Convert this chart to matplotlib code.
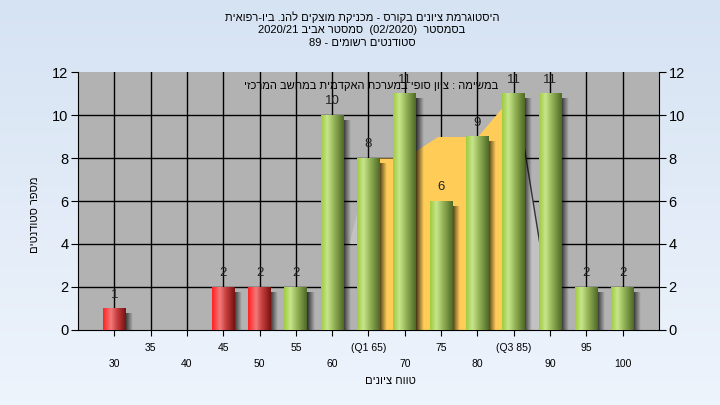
import numpy as np
import matplotlib
matplotlib.use("Agg")
import matplotlib.pyplot as plt
from matplotlib.colors import LinearSegmentedColormap, to_rgb

plt.rcParams['font.family'] = ['Liberation Sans', 'DejaVu Sans']

# data
grades = [30, 35, 40, 45, 50, 55, 60, 65, 70, 75, 80, 85, 90, 95, 100]
counts = [1, 0, 0, 2, 2, 2, 10, 8, 11, 6, 9, 11, 11, 2, 2]
failed = [30, 40, 45, 50]  # red bars
tick_top = ["35", "45", "55", "(Q1 65)", "75", "(Q3 85)", "95"]
tick_top_pos = [35, 45, 55, 65, 75, 85, 95]
tick_bot = ["30", "40", "50", "60", "70", "80", "90", "100"]
tick_bot_pos = [30, 40, 50, 60, 70, 80, 90, 100]
# background area (as drawn behind the bars)
area_x = [65, 70, 74.5, 80, 85]
area_y = [8, 8, 9, 9, 11]

title_lines = ["היסטוגרמת ציונים בקורס - מכניקת מוצקים להנ. ביו-רפואית",
               "בסמסטר  (02/2020)  סמסטר אביב 2020/21",
               "סטודנטים רשומים - 89"]
subtitle = "במשימה : ציון סופי במערכת האקדמית במחשב המרכזי"
xlabel = "טווח ציונים"
ylabel = "מספר סטודנטים"


def rtl(s):
    # crude visual ordering for hebrew text
    out = []
    for tok in s.split(" ")[::-1]:
        if any('\u0590' <= c <= '\u05ff' for c in tok):
            tok = tok[::-1]
        out.append(tok)
    return " ".join(out)


fig = plt.figure(figsize=(7.2, 4.05), dpi=100)
bg = fig.add_axes([0, 0, 1, 1], zorder=-10)
grad = np.linspace(0, 1, 100)[:, None]
c1, c2 = np.array(to_rgb("#d6e3f3")), np.array(to_rgb("#eef4fc"))
bg.imshow(c1 + (c2 - c1) * grad[:, :, None], aspect="auto", extent=(0, 1, 0, 1), origin="upper")
bg.axis("off")

ax = fig.add_axes([0.1083, 0.1852, 0.8070, 0.6370])
ax.set_facecolor("#b2b2b2")
xmin, xmax = 25, 105

for gx in range(30, 105, 5):
    ax.axvline(gx, color="black", lw=1, zorder=0.5)
for gy in range(2, 12, 2):
    ax.axhline(gy, color="black", lw=1, zorder=0.5)

# area behind the bars
ax.fill_between(area_x, 0, area_y, color="#ffcc58", zorder=1, lw=0)
ax.fill([62.4, 63.8, 63.8], [4.0, 6.0, 4.0], color="#c2c2c2", zorder=1, lw=0)
ax.fill([85, 86.5, 88.6, 88.6, 85], [11, 8.4, 4.0, 0, 0], color="#c2c2c2", zorder=1, lw=0)
ax.plot([85, 86.5, 88.6], [11, 8.4, 4.0], color="#333333", lw=1, zorder=1.2)

green = LinearSegmentedColormap.from_list("g", [(0, "#9fcb3f"), (0.28, "#c7e68c"), (0.55, "#98b75a"), (1, "#4f6a26")])
red = LinearSegmentedColormap.from_list("r", [(0, "#ff2222"), (0.35, "#f27a7a"), (0.6, "#c94040"), (1, "#781212")])
ramp = np.linspace(0, 1, 64)[None, :]
bw = 3.15
for g, n in zip(grades, counts):
    if n == 0:
        continue
    x0 = g - bw / 2
    # shadow
    sh = np.zeros((1, 32, 4))
    sh[..., 3] = np.linspace(0.75, 0, 32)
    ax.imshow(sh, extent=(x0 + bw - 0.1, x0 + bw + 0.9, 0, n - 0.25), aspect="auto", zorder=2, interpolation="bilinear")
    cm = red if g in failed else green
    ax.imshow(cm(ramp), extent=(x0, x0 + bw, 0, n), aspect="auto", zorder=3, interpolation="bilinear")
    ax.text(g, n + 0.35, str(n), ha="center", va="bottom", fontsize=9.5, color="#222222", zorder=5)

ax.set_xlim(xmin, xmax)
ax.set_ylim(0, 12)

ax.set_xticks(list(range(30, 105, 5)))
ax.set_xticklabels([])
ax.tick_params(axis="x", length=4, direction="out")
for p, t in zip(tick_top_pos, tick_top):
    ax.text(p, -0.6, t, ha="center", va="top", fontsize=7.5)
for p, t in zip(tick_bot_pos, tick_bot):
    ax.text(p, -1.35, t, ha="center", va="top", fontsize=7.5)

ax.set_yticks(range(0, 13, 2))
ax.tick_params(axis="y", labelsize=10.5, length=5, right=True, labelright=True, pad=2)
ax.spines["top"].set_visible(False)

fig.text(390 / 720, 1 - 381 / 405, rtl(xlabel), fontsize=8, ha="center", va="center")
fig.text(35 / 720, 1 - 215 / 405, rtl(ylabel), rotation=90, fontsize=8, ha="center", va="center")

for i, line in enumerate(title_lines):
    fig.text(362 / 720, 1 - (17 + 13 * i) / 405, rtl(line), ha="center", va="center", fontsize=8)
ax.text((371 - 78) / 581, 1 - 14 / 258, rtl(subtitle), fontsize=8, ha="center", va="center",
        zorder=6, transform=ax.transAxes)

fig.savefig("out.png", dpi=100)
